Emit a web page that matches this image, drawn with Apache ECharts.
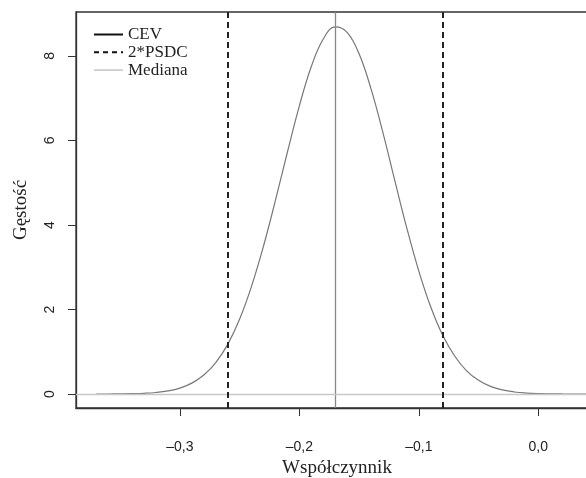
<!DOCTYPE html>
<html>
<head>
<meta charset="utf-8">
<script src="https://cdn.jsdelivr.net/npm/echarts@6/dist/echarts.min.js"></script>
<style>
html, body { margin: 0; padding: 0; background: #fff; }
#chart { width: 586px; height: 478px; }
</style>
</head>
<body>
<div id="chart"></div>
<script>
// gestosc
var xs = [-0.37, -0.36, -0.35, -0.34, -0.33, -0.32, -0.31, -0.30, -0.29, -0.28, -0.27, -0.26, -0.25, -0.24, -0.23, -0.22, -0.21, -0.20, -0.19, -0.18, -0.17, -0.16, -0.15, -0.14, -0.13, -0.12, -0.11, -0.10, -0.09, -0.08, -0.07, -0.06, -0.05, -0.04, -0.03, -0.02, -0.01, 0.00, 0.01, 0.02, 0.03, 0.04, 0.05];
var density = [0.0005, 0.0014, 0.0035, 0.008, 0.018, 0.037, 0.074, 0.141, 0.258, 0.449, 0.744, 1.176, 1.774, 2.553, 3.504, 4.587, 5.727, 6.82, 7.75, 8.40, 8.69, 8.56, 8.05, 7.22, 6.18, 5.04, 3.92, 2.91, 2.06, 1.39, 0.90, 0.55, 0.324, 0.181, 0.097, 0.049, 0.024, 0.011, 0.005, 0.002, 0.001, 0.0005, 0.0002];
var psdc = [-0.259, -0.077];
var mediana = -0.168;
var xTicks = [-0.3, -0.2, -0.1, 0.0];
var yTicks = [0, 2, 4, 6, 8];
var xMin = -0.387, xMax = 0.05;

var chart = echarts.init(document.getElementById('chart'));

function fmt(v) {
    return v.toFixed(1).replace('.', ',').replace('-', '\u2013');
}

var curve = [];
for (var i = 0; i < xs.length; i++) {
    curve.push([xs[i], density[i]]);
}

var option = {
    animation: false,
    grid: {
        left: 76, top: 12, width: 522, height: 396,
        outerBoundsMode: 'none',
        show: true, borderColor: '#333', borderWidth: 1.3
    },
    legend: {
        orient: 'vertical',
        left: 88, top: 21,
        itemWidth: 29, itemHeight: 18, itemGap: 0.8,
        itemStyle: { opacity: 0 },
        textStyle: { fontFamily: 'Liberation Serif', fontSize: 17, color: '#222' },
        data: [
            { name: 'CEV', lineStyle: { color: '#111', width: 2 } },
            { name: '2*PSDC', lineStyle: { color: '#111', width: 2, type: [5, 4] } },
            { name: 'Mediana', lineStyle: { color: '#bbb', width: 1.3 } }
        ]
    },
    xAxis: {
        type: 'value',
        min: xMin, max: xMax,
        axisLine: { show: true, onZero: false, lineStyle: { color: '#333', width: 1.3 } },
        axisTick: { show: true, length: 8, customValues: xTicks, lineStyle: { color: '#333' } },
        axisLabel: { customValues: xTicks, formatter: fmt, margin: 32, fontFamily: 'Liberation Sans', fontSize: 14, color: '#222' },
        splitLine: { show: false },
        name: 'Współczynnik',
        nameLocation: 'middle',
        nameGap: 49,
        nameTextStyle: { fontFamily: 'Liberation Serif', fontSize: 19, color: '#222' }
    },
    yAxis: {
        type: 'value',
        min: -0.33, max: 9.04,
        axisLine: { show: true, onZero: false, lineStyle: { color: '#333', width: 1.3 } },
        axisTick: { show: true, length: 8, customValues: yTicks, lineStyle: { color: '#333' } },
        axisLabel: { customValues: yTicks, rotate: 90, margin: 19, fontFamily: 'Liberation Sans', fontSize: 14, color: '#222' },
        splitLine: { show: false },
        name: 'Gęstość',
        nameLocation: 'middle',
        nameGap: 45,
        nameTextStyle: { fontFamily: 'Liberation Serif', fontSize: 19, color: '#222' }
    },
    series: [
        {
            name: 'CEV',
            type: 'line',
            data: curve,
            smooth: 0.4,
            showSymbol: false,
            symbol: 'none',
            lineStyle: { color: '#777', width: 1.2 },
            z: 3
        },
        {
            name: 'Mediana',
            type: 'line',
            data: [],
            symbol: 'none',
            lineStyle: { color: '#bbb' },
            markLine: {
                silent: true, symbol: 'none', label: { show: false },
                data: [
                    { xAxis: mediana, lineStyle: { color: '#888', width: 1.3, type: 'solid' } },
                    [
                        { coord: [xMin, 0], lineStyle: { color: '#c8c8c8', width: 1.3, type: 'solid' } },
                        { coord: [xMax, 0] }
                    ]
                ]
            }
        },
        {
            name: '2*PSDC',
            type: 'line',
            data: [],
            symbol: 'none',
            lineStyle: { color: '#111', type: [5, 4] },
            markLine: {
                silent: true, symbol: 'none', label: { show: false },
                lineStyle: { color: '#222', width: 2, type: [6, 4] },
                data: psdc.map(function(v) { return { xAxis: v }; })
            }
        }
    ]
};
chart.setOption(option);
</script>
</body>
</html>
